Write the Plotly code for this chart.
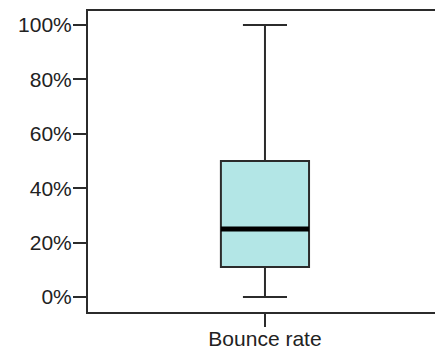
import plotly.graph_objects as go

# Summary statistics for the bounce-rate distribution (fractions of 1)
CATEGORY = "Bounce rate"
LOWER_WHISKER = 0.0
Q1 = 0.11
MEDIAN = 0.25
Q3 = 0.50
UPPER_WHISKER = 1.0
Y_TICKS = [0.0, 0.2, 0.4, 0.6, 0.8, 1.0]

BOX_WIDTH = 0.254
INK = "#2b2b2b"
FONT = "Liberation Sans, Arial, sans-serif"

fig = go.Figure()

fig.add_trace(go.Box(
    x=[0],
    q1=[Q1], median=[MEDIAN], q3=[Q3],
    lowerfence=[LOWER_WHISKER], upperfence=[UPPER_WHISKER],
    width=BOX_WIDTH,
    whiskerwidth=0.5,
    fillcolor="#b3e6e6",
    line=dict(color=INK, width=2),
    boxpoints=False,
    hoverinfo="skip",
    showlegend=False,
))

# Heavy median bar drawn over the box
fig.add_trace(go.Scatter(
    x=[-BOX_WIDTH / 2, BOX_WIDTH / 2],
    y=[MEDIAN, MEDIAN],
    mode="lines",
    line=dict(color="#000000", width=5),
    hoverinfo="skip",
    showlegend=False,
))

fig.update_layout(
    width=435, height=351,
    margin=dict(l=88, r=0, t=11, b=39),
    paper_bgcolor="white",
    plot_bgcolor="white",
    font=dict(family=FONT, size=21, color="#222222"),
    xaxis=dict(
        range=[-0.51, 0.49],
        tickvals=[0], ticktext=[CATEGORY],
        showgrid=False, zeroline=False,
        showline=True, linecolor=INK, linewidth=2, mirror=True,
        ticks="outside", ticklen=13, tickwidth=2, tickcolor=INK,
        ticklabelstandoff=-6,
        automargin=False,
        fixedrange=True,
    ),
    yaxis=dict(
        range=[-0.055, 1.051],
        tickvals=Y_TICKS, tickformat=".0%",
        showgrid=False, zeroline=False,
        showline=True, linecolor=INK, linewidth=2, mirror=False,
        ticks="outside", ticklen=13, tickwidth=2, tickcolor=INK,
        ticklabelstandoff=-3,
        automargin=False,
        fixedrange=True,
    ),
)

fig.write_html("out.html")
